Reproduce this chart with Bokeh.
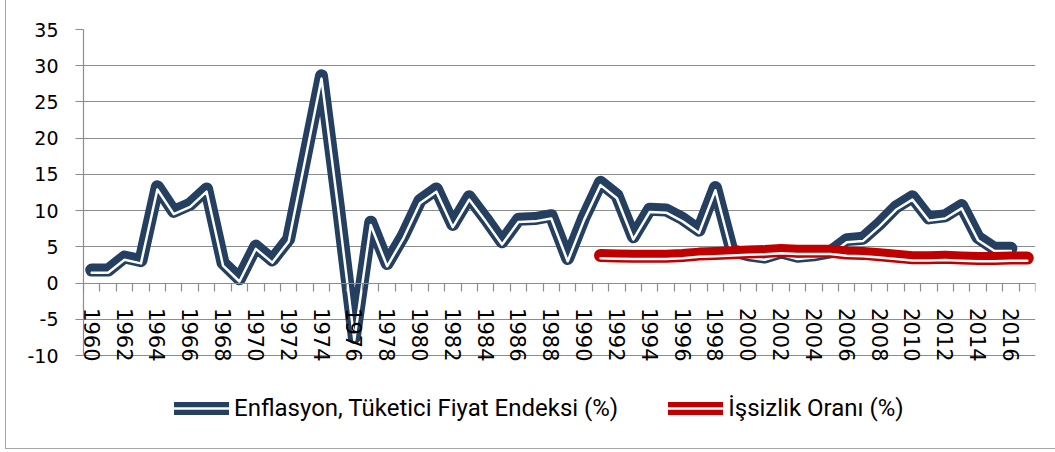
from bokeh.plotting import figure
from bokeh.models import (Range1d, FixedTicker, Legend, LegendItem, BasicTickFormatter,
                          ColumnDataSource)
from bokeh.transform import dodge
from bokeh.embed import file_html
from bokeh.resources import INLINE

# ---- data ----
years_inf = list(range(1960, 2017))
inflation = [1.8, 1.8, 3.6, 3.1, 13.3, 9.9, 10.9, 13.0, 2.8, 0.6,
             5.1, 3.2, 6.1, 17.3, 28.6, 11.0, -7.5, 8.4, 2.7, 6.6,
             11.4, 13.0, 8.1, 11.9, 8.9, 5.7, 8.8, 8.9, 9.3, 3.4,
             9.1, 13.9, 12.1, 6.4, 10.2, 10.1, 8.9, 7.3, 13.2, 4.5,
             3.9, 3.6, 4.3, 3.7, 3.9, 4.3, 6.0, 6.2, 8.2, 10.5,
             11.9, 9.0, 9.3, 10.7, 6.3, 4.8, 4.8]
years_unemp = list(range(1991, 2018))
unemployment = [3.8, 3.75, 3.7, 3.7, 3.7, 3.8, 4.0, 4.1, 4.2, 4.3,
                4.35, 4.5, 4.4, 4.4, 4.4, 4.15, 4.1, 3.9, 3.7, 3.5,
                3.5, 3.55, 3.45, 3.4, 3.4, 3.45, 3.45]
y_ticks = [-10, -5, 0, 5, 10, 15, 20, 25, 30, 35]
label_years = years_inf[::2]
name_inf = "Enflasyon, Tüketici Fiyat Endeksi (%)"
name_unemp = "İşsizlik Oranı (%)"

NAVY = "#243F60"
RED = "#C00000"
GRID = "#8c8c8c"

all_years = sorted(set(years_inf) | set(years_unemp))

# the frame reaches below the -10 line so that the legend can sit inside it
p = figure(width=1049, height=448, output_backend="svg", toolbar_location=None, title=None,
           x_range=Range1d(all_years[0] - 0.5, all_years[-1] + 0.5),
           y_range=Range1d(-21.45, y_ticks[-1]),
           min_border_left=77, min_border_right=20, min_border_top=29, min_border_bottom=10)
p.outline_line_color = None
p.background_fill_color = "white"
p.border_fill_color = "white"
p.styles = {"margin-left": "6px", "outline": "1.5px solid #a6a6a6"}

# x axis at y = 0
xa = p.xaxis[0]
xa.fixed_location = 0
xa.ticker = FixedTicker(ticks=label_years,
                        minor_ticks=[y - 0.5 for y in all_years] + [all_years[-1] + 0.5])
xa.formatter = BasicTickFormatter(use_scientific=False)
xa.major_tick_line_color = None
xa.major_tick_out = 0
xa.major_tick_in = 0
xa.minor_tick_out = 8
xa.minor_tick_in = 0
xa.minor_tick_line_color = GRID
xa.minor_tick_line_width = 1.2
xa.axis_line_color = GRID
xa.axis_line_width = 1.2
xa.major_label_orientation = "vertical"
xa.major_label_standoff = 17
xa.major_label_text_font = "DejaVu Sans"
xa.major_label_text_font_size = "21px"
xa.major_label_text_color = "#000000"

ya = p.yaxis[0]
ya.ticker = FixedTicker(ticks=y_ticks)
ya.bounds = (y_ticks[0], y_ticks[-1])
ya.major_label_overrides = {t: str(t) for t in y_ticks}
ya.major_tick_out = 8
ya.major_tick_in = 0
ya.major_tick_line_color = GRID
ya.major_tick_line_width = 1.2
ya.minor_tick_line_color = None
ya.axis_line_color = GRID
ya.axis_line_width = 1.2
ya.major_label_standoff = 17
ya.major_label_text_font = "DejaVu Sans"
ya.major_label_text_font_size = "19px"
ya.major_label_text_color = "#000000"

p.xgrid.visible = False
p.ygrid.ticker = FixedTicker(ticks=y_ticks)
p.ygrid.grid_line_color = GRID
p.ygrid.grid_line_width = 1.2

src_inf = ColumnDataSource(dict(year=years_inf, value=inflation))
src_un = ColumnDataSource(dict(year=years_unemp, value=unemployment))

r1 = p.line("year", "value", source=src_inf, line_color=NAVY, line_width=13,
            line_cap="round", line_join="round")
r2 = p.line("year", dodge("value", -0.38), source=src_inf, line_color="white", line_width=2.5,
            line_cap="round", line_join="round")
r3 = p.line("year", "value", source=src_un, line_color=RED, line_width=13,
            line_cap="round", line_join="round")
r4 = p.line("year", dodge("value", -0.38), source=src_un, line_color="white", line_width=2.5,
            line_cap="round", line_join="round")

legend = Legend(items=[LegendItem(label=name_inf, renderers=[r1, r2]),
                       LegendItem(label=name_unemp, renderers=[r3, r4])],
                orientation="horizontal", location=(91, 16),
                glyph_width=55, glyph_height=20, label_standoff=5, spacing=50,
                padding=0, margin=0, border_line_color=None,
                background_fill_alpha=0,
                label_text_font="Roboto", label_text_font_size="24px", label_height=20,
                label_text_color="#000000")
p.add_layout(legend, "center")

open("out.html", "w").write(file_html(p, INLINE))
